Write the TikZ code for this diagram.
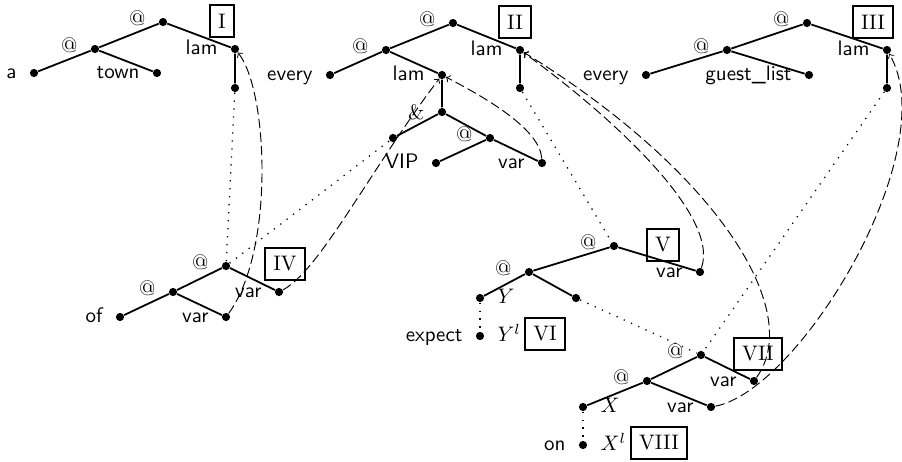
\documentclass[tikz,border=0pt]{standalone}
\usepackage{amsmath}
\usepackage{tikz}
\usetikzlibrary{arrows}

\tikzset{
  dot/.style={circle,fill,inner sep=0pt,minimum size=3.9pt},
  lbl/.style={font=\sffamily,inner sep=0pt,text height=1.5ex,text depth=.25ex},
  lft/.style={label={[lbl,label distance=6pt]left:#1}},
  rgt/.style={label={[lbl,label distance=6pt]right:#1}},
  app/.style={label={[font=\rmfamily,inner sep=0pt,label distance=6pt,yshift=2pt]left:@}},
  tree/.style={line width=0.85pt},
  bind/.style={->,>=to,line width=0.45pt,dash pattern=on 4.5pt off 2pt},
  link/.style={line width=0.6pt,dash pattern=on 0.6pt off 3.2pt},
  numbox/.style={draw,line width=0.9pt,inner sep=4pt,font=\rmfamily}
}

\begin{document}
\begin{tikzpicture}[x=0.476pt,y=-0.476pt]
\useasboundingbox (0,0) rectangle (902,461);

% tree I
\node[dot,app] (iA) at (163,22) {};
\node[dot,app] (iB) at (95,49) {};
\node[dot,lft=a] (iC) at (34,73) {};
\node[dot,lft=town] (iD) at (157,73) {};
\node[dot,lft=lam] (iE) at (235,49) {};
\node[dot] (iF) at (235,88) {};
\node[numbox] (bI) at (222,21) {I};
\draw[tree] (iC) -- (iB) -- (iA) -- (iE) -- (iF);
\draw[tree] (iB) -- (iD);

% tree II
\node[dot,app] (iiA) at (453,23) {};
\node[dot,app] (iiB) at (386,50) {};
\node[dot,lft=every] (iiC) at (330,75) {};
\node[dot,lft=lam] (iiD) at (442,75) {};
\node[dot,label={[font=\rmfamily,inner sep=0pt,label distance=6pt]left:\&}] (iiE) at (442,112) {};
\node[dot] (iiF) at (393,138) {};
\node[dot,app] (iiG) at (490,138) {};
\node[dot,lft=VIP] (iiH) at (436,163) {};
\node[dot,lft=var] (iiJ) at (542,163) {};
\node[dot,lft=lam] (iiK) at (520,50) {};
\node[dot] (iiL) at (520,88) {};
\node[numbox] (bII) at (515,22) {II};
\draw[tree] (iiC) -- (iiB) -- (iiA) -- (iiK) -- (iiL);
\draw[tree] (iiB) -- (iiD) -- (iiE) -- (iiF);
\draw[tree] (iiE) -- (iiG) -- (iiJ);
\draw[tree] (iiG) -- (iiH);

% tree III
\node[dot,app] (iiiA) at (807,23) {};
\node[dot,app] (iiiB) at (727,50) {};
\node[dot,lft=every] (iiiC) at (646,75) {};
\node[dot,lft=guest\_list] (iiiD) at (809,75) {};
\node[dot,lft=lam] (iiiE) at (887,50) {};
\node[dot] (iiiF) at (887,88) {};
\node[numbox] (bIII) at (873,22) {III};
\draw[tree] (iiiC) -- (iiiB) -- (iiiA) -- (iiiE) -- (iiiF);
\draw[tree] (iiiB) -- (iiiD);

% tree IV
\node[dot,app] (ivA) at (226,266) {};
\node[dot,app] (ivB) at (173,292) {};
\node[dot,lft=of] (ivC) at (120,317) {};
\node[dot,lft=var] (ivD) at (226,317) {};
\node[dot,lft=var] (ivE) at (279,292) {};
\node[numbox] (bIV) at (285,264) {IV};
\draw[tree] (ivC) -- (ivB) -- (ivA) -- (ivE);
\draw[tree] (ivB) -- (ivD);

% tree V and VI
\node[dot,app] (vA) at (614,246) {};
\node[dot,app] (vB) at (529,272) {};
\node[dot,rgt=$Y$] (vC) at (480,298) {};
\node[dot] (vD) at (576,298) {};
\node[dot,lft=var] (vE) at (700,272) {};
\node[numbox] (bV) at (663,245) {V};
\draw[tree] (vC) -- (vB) -- (vA) -- (vE);
\draw[tree] (vB) -- (vD);
\node[dot,lft=expect,rgt=$Y^l$] (viA) at (480,336) {};
\node[numbox] (bVI) at (545,334) {VI};

% tree VII and VIII
\node[dot,app] (viiA) at (701,355) {};
\node[dot,app] (viiB) at (647,381) {};
\node[dot,rgt=$X$] (viiC) at (583,407) {};
\node[dot,lft=var] (viiD) at (711,407) {};
\node[dot,lft=var] (viiE) at (754,381) {};
\node[numbox] (bVII) at (758,354) {VII};
\draw[tree] (viiC) -- (viiB) -- (viiA) -- (viiE);
\draw[tree] (viiB) -- (viiD);
\node[dot,lft=on,rgt=$X^l$] (viiiA) at (583,445) {};
\node[numbox] (bVIII) at (659,443) {VIII};

% dotted links
\draw[link] (iF) -- (ivA);
\draw[link] (ivA) -- (iiF);
\draw[link] (iiL) -- (vA);
\draw[link] (vD) -- (viiA);
\draw[link] (iiiF) -- (viiA);
\draw[link] (vC) -- (viA);
\draw[link] (viiC) -- (viiiA);

% dashed bindings
\draw[bind] (ivD) .. controls (275,250) and (268,90) .. (iE);
\draw[bind] (ivE) .. controls (320,270) and (370,170) .. (iiD);
\draw[bind] (iiJ) .. controls (540,130) and (490,100) .. (iiD);
\draw[bind] (vE) .. controls (720,215) and (610,115) .. (iiK);
\draw[bind] (viiE) .. controls (805,310) and (715,170) .. (iiK);
\draw[bind] (viiD) .. controls (800,390) and (945,150) .. (iiiE);

\end{tikzpicture}
\end{document}
